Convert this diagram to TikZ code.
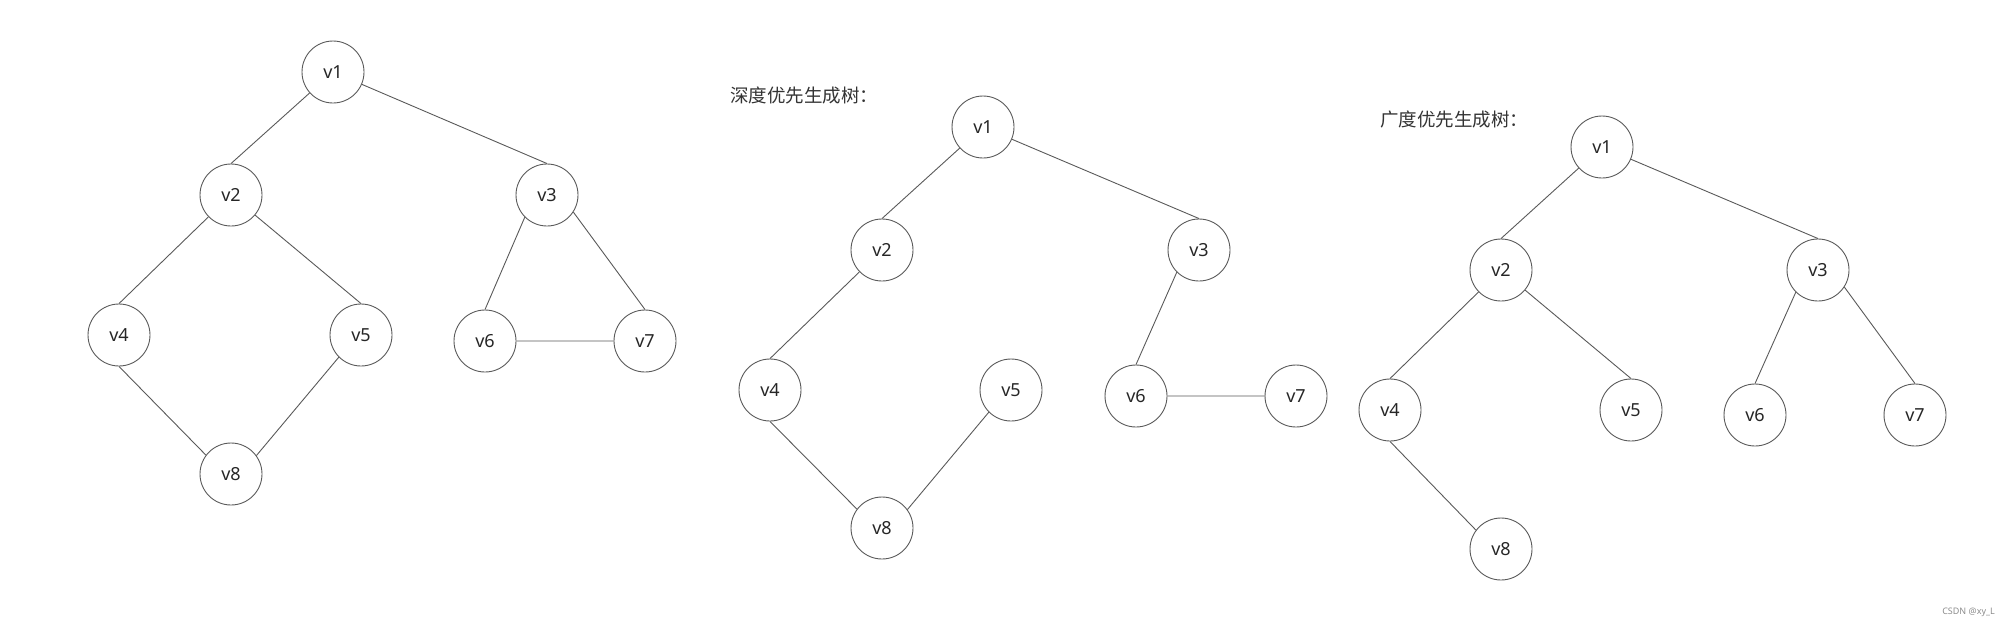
\documentclass[tikz,border=0pt]{standalone}
\usepackage{fontspec}
\setmainfont{Noto Sans}
\newfontfamily\cjk{Noto Sans CJK SC}
\begin{document}
\begin{tikzpicture}[x=1pt,y=-1pt,
  vtx/.style={circle,draw=black!65,line width=0.9pt,minimum size=62pt,inner sep=0pt,font=\fontsize{18}{20}\selectfont,text=black!85},
  edge/.style={draw=black!65,line width=0.9pt},
  lbl/.style={anchor=west,font=\cjk\fontsize{18.5}{20}\selectfont,text=black!80,inner sep=0pt}]
\useasboundingbox (0,0) rectangle (2010,627);
% Graph 1
\node[vtx] (a1) at (333,72) {v1};
\node[vtx] (a2) at (231,195) {v2};
\node[vtx] (a3) at (547,195) {v3};
\node[vtx] (a4) at (119,335) {v4};
\node[vtx] (a5) at (361,335) {v5};
\node[vtx] (a6) at (485,341) {v6};
\node[vtx] (a7) at (645,341) {v7};
\node[vtx] (a8) at (231,474) {v8};
\draw[edge] (a1)--(a2.north) (a1)--(a3.north) (a2)--(a4.north) (a2)--(a5.north)
  (a4.south)--(a8.143) (a5.225)--(a8.36) (a3.225)--(a6.north) (a3.-33)--(a7.north) (a6.east)--(a7.west);
% Graph 2
\node[lbl] (l2) at (730,95) {深度优先生成树：};
\node[vtx] (b1) at (983,127) {v1};
\node[vtx] (b2) at (882,250) {v2};
\node[vtx] (b3) at (1199,250) {v3};
\node[vtx] (b4) at (770,390) {v4};
\node[vtx] (b5) at (1011,390) {v5};
\node[vtx] (b6) at (1136,396) {v6};
\node[vtx] (b7) at (1296,396) {v7};
\node[vtx] (b8) at (882,528) {v8};
\draw[edge] (b1)--(b2.north) (b1)--(b3.north) (b2)--(b4.north) (b4.south)--(b8.143)
  (b5.225)--(b8.36) (b3.225)--(b6.north) (b6.east)--(b7.west);
% Graph 3
\node[lbl] (l3) at (1380,120) {广度优先生成树：};
\node[vtx] (c1) at (1602,147) {v1};
\node[vtx] (c2) at (1501,270) {v2};
\node[vtx] (c3) at (1818,270) {v3};
\node[vtx] (c4) at (1390,410) {v4};
\node[vtx] (c5) at (1631,410) {v5};
\node[vtx] (c6) at (1755,415) {v6};
\node[vtx] (c7) at (1915,415) {v7};
\node[vtx] (c8) at (1501,549) {v8};
\draw[edge] (c1)--(c2.north) (c1)--(c3.north) (c2)--(c4.north) (c2)--(c5.north)
  (c3.225)--(c6.north) (c3.-33)--(c7.north) (c4.south)--(c8.143);
% watermark
\node[anchor=east,font=\fontsize{9}{10}\selectfont,text=black!45,inner sep=0pt] (wm) at (1995,612) {CSDN @xy\_L};
\end{tikzpicture}
\end{document}
